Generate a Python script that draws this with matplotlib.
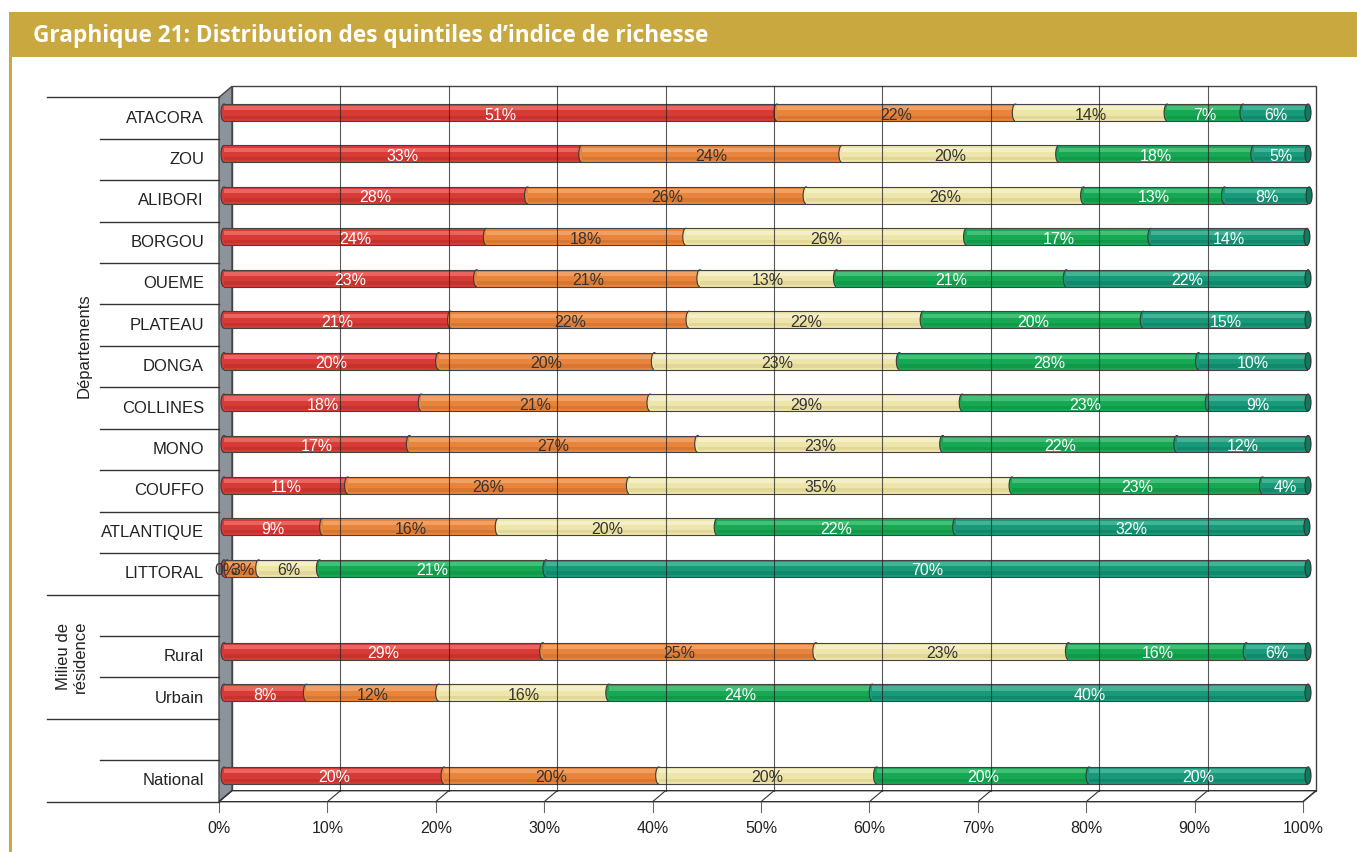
import numpy as np
import matplotlib.pyplot as plt
from matplotlib.patches import Rectangle, Ellipse, Polygon

plt.rcParams["font.family"] = ["Liberation Sans", "DejaVu Sans"]

categories = ['ATACORA', 'ZOU', 'ALIBORI', 'BORGOU', 'OUEME', 'PLATEAU', 'DONGA',
              'COLLINES', 'MONO', 'COUFFO', 'ATLANTIQUE', 'LITTORAL', '',
              'Rural', 'Urbain', '', 'National']
nan = np.nan
q1 = [51, 33, 28, 24.2, 23.3, 20.9, 19.8, 18.2, 17.1, 11.4, 9.1, 0.3, nan, 29.4, 7.6, nan, 20.3]
q2 = [22, 24, 25.7, 18.4, 20.6, 22.0, 19.9, 21.1, 26.6, 26.0, 16.2, 2.9, nan, 25.2, 12.2, nan, 19.8]
q3 = [14, 20, 25.6, 25.9, 12.6, 21.6, 22.6, 28.8, 22.6, 35.3, 20.2, 5.6, nan, 23.3, 15.7, nan, 20.1]
q4 = [7, 18, 13, 17.0, 21.2, 20.3, 27.6, 22.7, 21.6, 23.1, 22.0, 20.9, nan, 16.4, 24.3, nan, 19.6]
q5 = [6, 5, 7.8, 14.4, 22.3, 15.2, 10.1, 9.2, 12.1, 4.2, 32.4, 70.3, nan, 5.7, 40.2, nan, 20.2]
quintiles = [q1, q2, q3, q4, q5]
ticks = np.arange(0, 101, 10)

colors = ['#D83A35', '#E8843C', '#EEE5AA', '#16A853', '#179A7A']
light = ['#EE706A', '#F3A86E', '#F8F2CF', '#52C581', '#52B99C']
dark = ['#B62C28', '#C96B29', '#D8CB88', '#0E8D43', '#0F7A60']
label_colors = ['white', '#333333', '#333333', 'white', 'white']

W, H = 1357, 852
fig = plt.figure(figsize=(W / 100, H / 100), dpi=100)

# bar plane of the pseudo 3D box (pixels)
x0, x1 = 224, 1308
y0, y1 = 91.8, 796.2
ax = fig.add_axes([x0 / W, 1 - y1 / H, (x1 - x0) / W, (y1 - y0) / H])
n = len(categories)
ax.set_xlim(0, 100)
ax.set_ylim(n - 0.5, -0.5)
ax.axis('off')

PX = 100 / (x1 - x0)
PY = n / (y1 - y0)
bx, by = 8 * PX, -5.5 * PY    # back wall offset
fx, fy = -5 * PX, 5.5 * PY    # front edge offset
top, bot = -0.5, n - 0.5

# back wall, left wall, floor
ax.add_patch(Rectangle((bx, top + by), 100, n, fc='white', ec='#444444', lw=1,
                       clip_on=False, zorder=0))
ax.add_patch(Polygon([(fx, top + fy), (bx, top + by), (bx, bot + by), (fx, bot + fy)],
                     closed=True, fc='#8C939B', ec='#444444', lw=1, clip_on=False, zorder=1))
ax.add_patch(Polygon([(fx, bot + fy), (100 + fx, bot + fy), (100 + bx, bot + by), (bx, bot + by)],
                     closed=True, fc='white', ec='#333333', lw=1, clip_on=False, zorder=1))
for t in ticks:
    ax.plot([t + fx, t + bx], [bot + fy, bot + by], color='#333333', lw=0.8, clip_on=False, zorder=1)
    ax.plot([t + fx, t + fx], [bot + fy, bot + fy + 10 * PY], color='#666666', lw=0.8,
            clip_on=False, zorder=1)
    ax.text(t + fx, bot + fy + 27 * PY, f'{t}%', ha='center', va='center', fontsize=11.5,
            color='#222222')
for t in ticks[1:-1]:
    ax.plot([t + bx, t + bx], [top + by, bot + by], color='#222222', lw=0.8, alpha=0.75,
            clip_on=False, zorder=25)

# cylinders
h = 17 * PY
cw = 6 * PX
for i in range(n):
    vals = [q[i] for q in quintiles]
    if np.isnan(vals[0]):
        continue
    left = 0
    for k, v in enumerate(vals):
        z = 2 + 2 * k
        ax.add_patch(Ellipse((left, i), cw, h, fc=colors[k], ec='#3a3a3a', lw=0.8,
                             clip_on=False, zorder=z))
        ax.add_patch(Rectangle((left, i - h / 2), v, h, fc=colors[k], ec='none', zorder=z + 1))
        ax.add_patch(Rectangle((left, i - h * 0.36), v, h * 0.24, fc=light[k], ec='none',
                               alpha=0.8, zorder=z + 1))
        ax.add_patch(Rectangle((left, i + h * 0.18), v, h * 0.2, fc=dark[k], ec='none',
                               alpha=0.5, zorder=z + 1))
        tc = label_colors[k] if v >= 1 else '#333333'
        ax.text(left + v / 2, i + 2.5 * PY, f'{v:.0f}%', ha='center', va='center',
                fontsize=11.5, color=tc, zorder=40)
        left += v
    ax.add_patch(Ellipse((left, i), cw, h, fc=dark[4], ec='#333333', lw=0.8,
                         clip_on=False, zorder=20))
    ax.plot([0, left], [i - h / 2] * 2, color='#444444', lw=0.8, zorder=21)
    ax.plot([0, left], [i + h / 2] * 2, color='#444444', lw=0.8, zorder=21)

# category labels and separators
for i, c in enumerate(categories):
    ax.text(-20 * PX, i + fy, c, ha='right', va='center', fontsize=12, color='#222222')
full = [-0.5, 11.5, 14.5, 16.5]
for b in np.arange(-0.5, n, 1.0):
    start = (47 - x0) * PX if b in full else (100 - x0) * PX
    ax.plot([start, fx], [b + fy, b + fy], color='#333333', lw=1, clip_on=False)
ax.text((84 - x0) * PX, 5.5 + fy, 'Départements', rotation=90, ha='center', va='center',
        fontsize=12, color='#222222')
ax.text((72 - x0) * PX, 13 + fy, 'Milieu de\nrésidence', rotation=90, ha='center',
        va='center', fontsize=12, color='#222222', linespacing=1.1)

# title banner
fig.patches.append(Rectangle((9 / W, 1 - 57 / H), (W - 9) / W, 45 / H,
                             transform=fig.transFigure, fc='#C9A840', ec='none'))
fig.patches.append(Rectangle((9 / W, 0), 3 / W, 1 - 57 / H,
                             transform=fig.transFigure, fc='#C9A840', ec='none'))
fig.text(33 / W, 1 - 36 / H, 'Graphique 21: Distribution des quintiles d\u2019indice de richesse',
         color='white', fontsize=16.3, fontweight='bold', family='Open Sans', va='center')

fig.savefig('out.png', dpi=100)
